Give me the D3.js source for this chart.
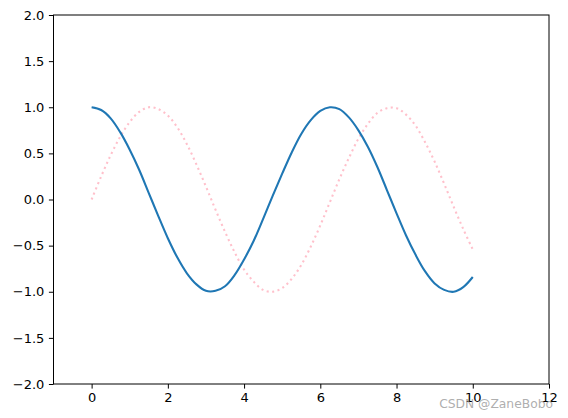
<!DOCTYPE html>
<html><head><meta charset="utf-8">
<script src="https://cdn.jsdelivr.net/npm/d3@7"></script>
<style>html,body{margin:0;padding:0;background:#fff;}svg{display:block;font-family:"DejaVu Sans",sans-serif;}</style>
</head><body><svg id="c" width="568" height="418"></svg>
<script>
const xs = [0,0.25,0.5,0.75,1,1.25,1.5,1.75,2,2.25,2.5,2.75,3,3.25,3.5,3.75,4,4.25,4.5,4.75,5,5.25,5.5,5.75,6,6.25,6.5,6.75,7,7.25,7.5,7.75,8,8.25,8.5,8.75,9,9.25,9.5,9.75,10];
const cosVals = [1.00,0.97,0.88,0.73,0.54,0.32,0.07,-0.18,-0.42,-0.63,-0.80,-0.92,-0.99,-0.99,-0.94,-0.82,-0.65,-0.45,-0.21,0.04,0.28,0.51,0.71,0.86,0.96,1.00,0.98,0.89,0.75,0.57,0.35,0.10,-0.15,-0.39,-0.60,-0.78,-0.91,-0.98,-1.00,-0.95,-0.84];
const sinVals = [0.00,0.25,0.48,0.68,0.84,0.95,1.00,0.98,0.91,0.78,0.60,0.38,0.14,-0.11,-0.35,-0.57,-0.76,-0.89,-0.98,-1.00,-0.96,-0.86,-0.71,-0.51,-0.28,-0.03,0.22,0.45,0.66,0.82,0.94,0.99,0.99,0.92,0.80,0.62,0.41,0.17,-0.08,-0.32,-0.54];
const xTicks = [0,2,4,6,8,10,12];
const yTicks = [-2.0,-1.5,-1.0,-0.5,0.0,0.5,1.0,1.5,2.0];
const xDomain = [-1,12];
const yDomain = [-2,2];

const svg = d3.select("#c");
const L = 53.5, R = 549, T = 15, B = 384;
const x = d3.scaleLinear().domain(xDomain).range([L, R]);
const y = d3.scaleLinear().domain(yDomain).range([B, T]);

const line = d3.line().x(d => x(d[0])).y(d => y(d[1])).curve(d3.curveCatmullRom.alpha(0.5));

svg.append("path").datum(xs.map((v,i)=>[v,sinVals[i]]))
  .attr("d", line).attr("fill","none").attr("stroke","#FFC0CB")
  .attr("stroke-width",2.08).attr("stroke-dasharray","2.08,3.44");
svg.append("path").datum(xs.map((v,i)=>[v,cosVals[i]]))
  .attr("d", line).attr("fill","none").attr("stroke","#1f77b4")
  .attr("stroke-width",2.08).attr("stroke-linecap","butt");

const fmtY = d => d3.format(".1f")(d).replace("-", "\u2212");
const xAxis = d3.axisBottom(x).tickValues(xTicks).tickSize(4.6).tickPadding(4.5).tickFormat(d => String(d));
const yAxis = d3.axisLeft(y).tickValues(yTicks).tickSize(4.6).tickPadding(4.5).tickFormat(fmtY);

const gx = svg.append("g").attr("transform",`translate(0,${B})`).call(xAxis);
const gy = svg.append("g").attr("transform",`translate(${L},0)`).call(yAxis);
[gx, gy].forEach(g => {
  g.select(".domain").remove();
  g.selectAll(".tick line").attr("stroke","#000").attr("stroke-width",1);
  g.selectAll(".tick text").attr("fill","#000").style("font-size","13px").style("font-family","DejaVu Sans");
});

svg.append("rect").attr("x",L).attr("y",T).attr("width",R-L).attr("height",B-T)
  .attr("fill","none").attr("stroke","#000").attr("stroke-width",1);

svg.append("text").attr("x",553).attr("y",408).attr("text-anchor","end")
  .attr("fill","#999").attr("fill-opacity",0.8)
  .style("font-size","12.3px").style("font-family","DejaVu Sans").text("CSDN @ZaneBobo");
</script></body></html>
